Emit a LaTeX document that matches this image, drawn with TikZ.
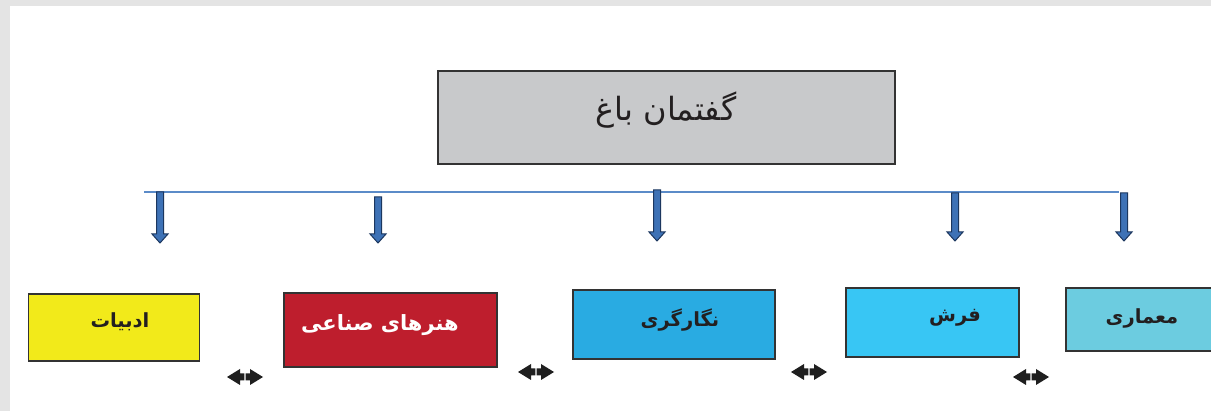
\documentclass[tikz,border=0pt]{standalone}
\usepackage{fontspec}
\setmainfont{DejaVu Sans}
\newfontfamily\arabicfont[Script=Arabic]{DejaVu Sans}
\TeXXeTstate=1
\definecolor{bordergray}{HTML}{E4E4E4}
\definecolor{titlegray}{HTML}{C8C9CB}
\definecolor{edgegray}{HTML}{333333}
\definecolor{ylw}{HTML}{F2EA1A}
\definecolor{rd}{HTML}{BE1E2D}
\definecolor{blueA}{HTML}{29ABE2}
\definecolor{blueB}{HTML}{38C6F4}
\definecolor{tealC}{HTML}{6CCCE0}
\definecolor{hlinec}{HTML}{5B8BC8}
\definecolor{arrfill}{HTML}{3E72B6}
\definecolor{arredge}{HTML}{1C375F}
\definecolor{txt}{HTML}{231F20}
\newcommand\vblockarrow[3]{%
  \draw[barrow] (#1-3.5,#2) -- (#1+3.5,#2) -- (#1+3.5,#3-9) -- (#1+8,#3-9) -- (#1,#3)
    -- (#1-8,#3-9) -- (#1-3.5,#3-9) -- cycle;}
\newcommand\dblarrow[2]{%
  \fill[darr] (#1-18,#2) -- (#1-5,#2-8) -- (#1-5,#2-3.5) -- (#1-0.7,#2-3.5)
    -- (#1-0.7,#2+3.5) -- (#1-5,#2+3.5) -- (#1-5,#2+8) -- cycle;
  \fill[darr] (#1+18,#2) -- (#1+5,#2-8) -- (#1+5,#2-3.5) -- (#1+0.7,#2-3.5)
    -- (#1+0.7,#2+3.5) -- (#1+5,#2+3.5) -- (#1+5,#2+8) -- cycle;}
\begin{document}
\begin{tikzpicture}[x=1pt,y=-1pt,
  catbox/.style={draw=edgegray, line width=1.5pt, inner sep=0pt},
  lbl/.style={inner sep=0pt, font=\arabicfont\bfseries\fontsize{19.5}{22}\selectfont, text=txt},
  hline/.style={draw=hlinec, line width=1.2pt},
  barrow/.style={fill=arrfill, draw=arredge, line width=1pt, line join=miter},
  darr/.style={fill=black!88}]
\useasboundingbox (0,0) rectangle (1211,411);
\fill[white] (0,0) rectangle (1211,411);
\fill[bordergray] (0,0) rectangle (1211,6);
\fill[bordergray] (0,0) rectangle (10,411);

% title
\node[catbox, fill=titlegray, minimum width=457pt, minimum height=93pt] (title) at (666.5,117.5) {};
\node[inner sep=0pt, font=\arabicfont\fontsize{32}{36}\selectfont, text=txt] (titletext) at (666,110) {\beginR گفتمان باغ\endR};

% horizontal line
\coordinate (hl) at (144,192);
\coordinate (hr) at (1119,192);
\draw[hline] (hl) -- (hr);

% down arrows
\vblockarrow{160}{192}{243}
\vblockarrow{378}{197}{243}
\vblockarrow{657}{190}{241}
\vblockarrow{955}{193}{241}
\vblockarrow{1124}{193}{241}

% category boxes
\node[catbox, fill=ylw, minimum width=171pt, minimum height=67pt] (adab) at (114,327.5) {};
\node[catbox, fill=rd, minimum width=213pt, minimum height=74pt] (honar) at (390.5,330) {};
\node[catbox, fill=blueA, minimum width=202pt, minimum height=69pt] (negar) at (674,324.5) {};
\node[catbox, fill=blueB, minimum width=173pt, minimum height=69pt] (farsh) at (932.5,322.5) {};
\node[catbox, fill=tealC, minimum width=152pt, minimum height=63pt] (memar) at (1142,319.5) {};

\node[lbl] (adabt) at (120,322) {\beginR ادبیات\endR};
\node[lbl, text=white, font=\arabicfont\bfseries\fontsize{21}{24}\selectfont] (honart) at (380,325) {\beginR هنرهای صناعی\endR};
\node[lbl] (negart) at (680,320) {\beginR نگارگری\endR};
\node[lbl] (farsht) at (955,318) {\beginR فرش\endR};
\node[lbl] (memart) at (1142,318) {\beginR معماری\endR};

% double arrows
\dblarrow{245}{377}
\dblarrow{536}{372}
\dblarrow{809}{372}
\dblarrow{1031}{377}
\end{tikzpicture}
\end{document}
